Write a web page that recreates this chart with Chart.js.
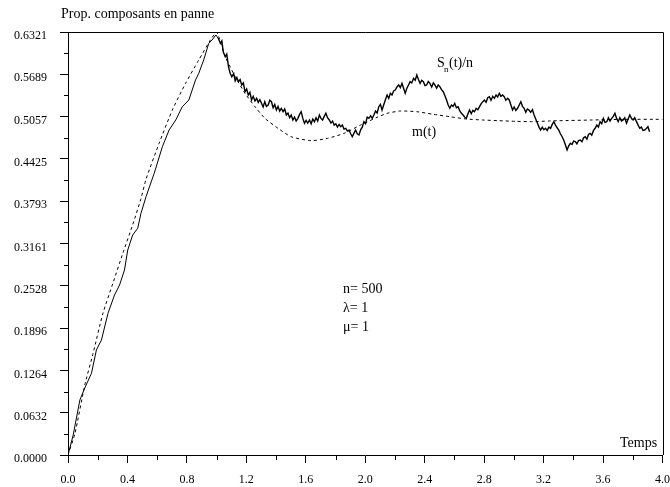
<!DOCTYPE html>
<html>
<head>
<meta charset="utf-8">
<script src="https://cdn.jsdelivr.net/npm/chart.js@4.4.1/dist/chart.umd.min.js"></script>
<style>
  html, body { margin: 0; padding: 0; background: #fff; overflow: hidden; }
  #wrap { width: 670px; height: 487px; overflow: hidden; }
</style>
</head>
<body>
<div id="wrap"><canvas id="chart" width="680" height="487"></canvas></div>
<script>
// --- données ---
const xTickLabels = ["0.0", "0.4", "0.8", "1.2", "1.6", "2.0", "2.4", "2.8", "3.2", "3.6", "4.0"];
const yTickLabels = ["0.0000", "0.0632", "0.1264", "0.1896", "0.2528", "0.3161",
  "0.3793", "0.4425", "0.5057", "0.5689", "0.6321"];

// S_n(t)/n : simulation (n = 500), points [t, valeur]
const simPoints = [
  [0.000, 0.0000], [0.035, 0.0299], [0.080, 0.0822], [0.113, 0.1001], [0.158, 0.1221],
  [0.191, 0.1569], [0.225, 0.1718], [0.269, 0.2117], [0.313, 0.2391], [0.347, 0.2540],
  [0.380, 0.2764], [0.402, 0.3063], [0.435, 0.3287], [0.469, 0.3388], [0.491, 0.3612],
  [0.525, 0.3860], [0.580, 0.4209], [0.635, 0.4607], [0.680, 0.4856], [0.725, 0.5006],
  [0.769, 0.5205], [0.813, 0.5304], [0.858, 0.5604], [0.880, 0.5704], [0.913, 0.5903],
  [0.947, 0.6152], [0.969, 0.6201], [0.995, 0.6276], [1.010, 0.6230], [1.025, 0.6152],
  [1.035, 0.6190], [1.045, 0.6020], [1.058, 0.5952], [1.068, 0.5990], [1.080, 0.5800],
  [1.091, 0.5704], [1.102, 0.5653], [1.115, 0.5700], [1.125, 0.5590], [1.136, 0.5640],
  [1.147, 0.5578], [1.158, 0.5610], [1.169, 0.5529], [1.180, 0.5560], [1.191, 0.5429],
  [1.202, 0.5470], [1.213, 0.5380], [1.224, 0.5420], [1.235, 0.5305], [1.246, 0.5360],
  [1.258, 0.5290], [1.269, 0.5330], [1.280, 0.5270], [1.291, 0.5310], [1.302, 0.5255],
  [1.313, 0.5200], [1.324, 0.5280], [1.335, 0.5210], [1.347, 0.5230], [1.358, 0.5300],
  [1.369, 0.5279], [1.380, 0.5190], [1.391, 0.5240], [1.402, 0.5155], [1.413, 0.5210],
  [1.424, 0.5140], [1.435, 0.5180], [1.447, 0.5130], [1.458, 0.5170], [1.469, 0.5081],
  [1.480, 0.5110], [1.491, 0.5040], [1.502, 0.5080], [1.513, 0.5006], [1.524, 0.5050],
  [1.535, 0.4990], [1.547, 0.5031], [1.558, 0.5090], [1.569, 0.5130], [1.580, 0.5030],
  [1.591, 0.4957], [1.602, 0.5000], [1.613, 0.4960], [1.625, 0.5006], [1.636, 0.4950],
  [1.647, 0.5020], [1.658, 0.4981], [1.669, 0.5040], [1.680, 0.4990], [1.691, 0.5081],
  [1.702, 0.5030], [1.713, 0.5006], [1.724, 0.5060], [1.735, 0.5106], [1.746, 0.5040],
  [1.758, 0.5006], [1.769, 0.4960], [1.780, 0.4990], [1.791, 0.4931], [1.802, 0.4950],
  [1.813, 0.4900], [1.824, 0.4940], [1.835, 0.4906], [1.846, 0.4930], [1.857, 0.4870],
  [1.869, 0.4882], [1.880, 0.4840], [1.891, 0.4856], [1.902, 0.4800], [1.913, 0.4756],
  [1.924, 0.4810], [1.935, 0.4856], [1.946, 0.4800], [1.958, 0.4782], [1.969, 0.4860],
  [1.980, 0.4900], [1.991, 0.4981], [2.002, 0.4950], [2.013, 0.5050], [2.025, 0.5031],
  [2.036, 0.5070], [2.047, 0.5030], [2.058, 0.5081], [2.069, 0.5140], [2.080, 0.5110],
  [2.091, 0.5205], [2.102, 0.5240], [2.113, 0.5155], [2.124, 0.5230], [2.135, 0.5305],
  [2.147, 0.5379], [2.158, 0.5330], [2.169, 0.5405], [2.180, 0.5380], [2.191, 0.5440],
  [2.202, 0.5454], [2.213, 0.5500], [2.225, 0.5529], [2.236, 0.5490], [2.247, 0.5554],
  [2.258, 0.5480], [2.269, 0.5405], [2.280, 0.5480], [2.291, 0.5529], [2.302, 0.5580],
  [2.313, 0.5560], [2.325, 0.5629], [2.336, 0.5600], [2.347, 0.5678], [2.358, 0.5610],
  [2.369, 0.5554], [2.380, 0.5600], [2.391, 0.5578], [2.402, 0.5520], [2.413, 0.5529],
  [2.424, 0.5580], [2.435, 0.5554], [2.447, 0.5500], [2.458, 0.5560], [2.469, 0.5529],
  [2.480, 0.5480], [2.491, 0.5530], [2.502, 0.5504], [2.513, 0.5460], [2.525, 0.5429],
  [2.536, 0.5370], [2.547, 0.5305], [2.558, 0.5230], [2.569, 0.5181], [2.580, 0.5230],
  [2.591, 0.5210], [2.602, 0.5255], [2.613, 0.5190], [2.625, 0.5205], [2.636, 0.5140],
  [2.647, 0.5106], [2.658, 0.5080], [2.669, 0.5050], [2.680, 0.5031], [2.691, 0.5100],
  [2.702, 0.5155], [2.713, 0.5100], [2.724, 0.5150], [2.735, 0.5130], [2.746, 0.5180],
  [2.758, 0.5160], [2.769, 0.5205], [2.780, 0.5250], [2.791, 0.5280], [2.802, 0.5305],
  [2.813, 0.5270], [2.824, 0.5340], [2.835, 0.5354], [2.846, 0.5300], [2.858, 0.5360],
  [2.869, 0.5330], [2.880, 0.5380], [2.891, 0.5350], [2.902, 0.5405], [2.913, 0.5360],
  [2.924, 0.5380], [2.935, 0.5354], [2.946, 0.5300], [2.958, 0.5330], [2.969, 0.5305],
  [2.980, 0.5230], [2.991, 0.5155], [3.002, 0.5200], [3.013, 0.5150], [3.025, 0.5181],
  [3.036, 0.5230], [3.047, 0.5279], [3.058, 0.5210], [3.069, 0.5181], [3.080, 0.5120],
  [3.091, 0.5170], [3.102, 0.5155], [3.113, 0.5120], [3.125, 0.5160], [3.136, 0.5080],
  [3.147, 0.5021], [3.158, 0.4960], [3.169, 0.4900], [3.180, 0.4856], [3.191, 0.4900],
  [3.202, 0.4860], [3.213, 0.4882], [3.224, 0.4850], [3.236, 0.4900], [3.247, 0.4882],
  [3.258, 0.4940], [3.269, 0.4981], [3.280, 0.4930], [3.291, 0.4890], [3.302, 0.4856],
  [3.313, 0.4800], [3.324, 0.4760], [3.335, 0.4707], [3.346, 0.4640], [3.358, 0.4558],
  [3.369, 0.4620], [3.380, 0.4658], [3.391, 0.4640], [3.402, 0.4690], [3.413, 0.4682],
  [3.424, 0.4650], [3.435, 0.4700], [3.447, 0.4707], [3.458, 0.4680], [3.469, 0.4740],
  [3.480, 0.4756], [3.491, 0.4720], [3.502, 0.4790], [3.513, 0.4807], [3.524, 0.4780],
  [3.536, 0.4850], [3.547, 0.4882], [3.558, 0.4930], [3.569, 0.4900], [3.580, 0.4981],
  [3.591, 0.4950], [3.602, 0.5031], [3.613, 0.4970], [3.625, 0.4981], [3.636, 0.5040],
  [3.647, 0.4990], [3.658, 0.5031], [3.669, 0.5060], [3.680, 0.5106], [3.691, 0.5030],
  [3.702, 0.4981], [3.713, 0.5040], [3.724, 0.4990], [3.735, 0.5006], [3.746, 0.5040],
  [3.758, 0.4957], [3.769, 0.5020], [3.780, 0.5081], [3.791, 0.5030], [3.802, 0.5006],
  [3.813, 0.5040], [3.825, 0.4981], [3.836, 0.4930], [3.847, 0.4882], [3.858, 0.4900],
  [3.869, 0.4850], [3.880, 0.4856], [3.891, 0.4880], [3.902, 0.4906], [3.913, 0.4831]
];

// m(t) : courbe théorique
const modelTime = [
  0.000, 0.047, 0.113, 0.169, 0.235, 0.302, 0.369, 0.435, 0.491, 0.525,
  0.613, 0.702, 0.791, 0.880, 0.958, 1.000, 1.058, 1.125, 1.191, 1.258,
  1.325, 1.413, 1.502, 1.635, 1.747, 1.858, 1.969, 2.080, 2.147, 2.235,
  2.347, 2.458, 2.569, 2.680, 2.791, 2.902, 3.013, 3.125, 3.235, 3.302,
  3.525, 3.747, 4.000
];
const modelValue = [
  0.0000, 0.0324, 0.1046, 0.1520, 0.2117, 0.2566, 0.3014, 0.3440, 0.3830, 0.4120,
  0.4658, 0.5155, 0.5554, 0.5903, 0.6201, 0.6321, 0.5952, 0.5653, 0.5405, 0.5205,
  0.5031, 0.4882, 0.4756, 0.4697, 0.4732, 0.4807, 0.4931, 0.5046, 0.5106, 0.5140,
  0.5130, 0.5091, 0.5055, 0.5021, 0.5006, 0.4995, 0.4986, 0.4981, 0.4991, 0.4995,
  0.5006, 0.5016, 0.5016
];

const serif = '"Liberation Serif", "Times New Roman", serif';
const tickFont = { family: serif, size: 12 };

// --- cadre, petites graduations et annotations ---
const extras = {
  id: "extras",
  afterDraw(chart) {
    const { ctx, chartArea: a, scales } = chart;
    ctx.save();
    ctx.strokeStyle = "#000";
    ctx.lineWidth = 1;
    ctx.beginPath();
    ctx.moveTo(a.left, Math.round(a.top) + 0.5);
    ctx.lineTo(Math.round(a.right) + 0.5, Math.round(a.top) + 0.5);
    ctx.lineTo(Math.round(a.right) + 0.5, a.bottom);
    // graduations secondaires
    const xs = xTickLabels.map(parseFloat);
    for (let i = 0; i < xs.length - 1; i++) {
      const px = Math.round(scales.x.getPixelForValue((xs[i] + xs[i + 1]) / 2)) + 0.5;
      ctx.moveTo(px, a.bottom);
      ctx.lineTo(px, a.bottom + 5);
    }
    const ys = yTickLabels.map(parseFloat);
    for (let i = 0; i < ys.length - 1; i++) {
      const py = Math.round(scales.y.getPixelForValue((ys[i] + ys[i + 1]) / 2)) + 0.5;
      ctx.moveTo(a.left, py);
      ctx.lineTo(a.left - 4, py);
    }
    ctx.stroke();

    ctx.fillStyle = "#000";
    ctx.textBaseline = "alphabetic";
    ctx.textAlign = "left";
    ctx.font = "14px " + serif;
    ctx.fillText("Prop. composants en panne", 61, 18);
    ctx.fillText("Temps", 620, 447);
    ctx.fillText("S", 437, 67);
    ctx.font = "9px " + serif;
    ctx.fillText("n", 444, 72);
    ctx.font = "14px " + serif;
    ctx.fillText("(t)/n", 449, 67);
    ctx.fillText("m(t)", 412, 136);
    ctx.fillText("n= 500", 343, 293);
    ctx.fillText("\u03bb= 1", 343, 312);
    ctx.fillText("\u03bc= 1", 343, 331);
    ctx.restore();
  }
};

const ctx = document.getElementById("chart");
new Chart(ctx, {
  type: "line",
  data: {
    datasets: [
      {
        label: "S_n(t)/n",
        data: simPoints.map((p) => ({ x: p[0], y: p[1] })),
        borderColor: "#000",
        borderWidth: 1,
        pointRadius: 0,
        tension: 0,
        segment: { borderWidth: (c) => (c.p0.parsed.x > 1.0 ? 1.4 : 1) }
      },
      {
        label: "m(t)",
        data: modelTime.map((t, i) => ({ x: t, y: modelValue[i] })),
        borderColor: "#000",
        borderWidth: 1,
        borderDash: [3, 3],
        pointRadius: 0,
        tension: 0.2
      }
    ]
  },
  options: {
    responsive: false,
    animation: false,
    devicePixelRatio: 1,
    layout: { padding: { top: 32, right: 12, left: 0, bottom: 0 } },
    plugins: { legend: { display: false }, tooltip: { enabled: false } },
    scales: {
      x: {
        type: "linear",
        min: 0,
        max: 4,
        afterBuildTicks: (s) => { s.ticks = xTickLabels.map((l) => ({ value: parseFloat(l) })); },
        afterFit: (s) => { s.height = 32; },
        ticks: {
          callback: (v, i) => xTickLabels[i],
          font: tickFont,
          color: "#000",
          padding: 10,
          maxRotation: 0,
          autoSkip: false
        },
        grid: { drawOnChartArea: false, tickLength: 8, color: "#000" },
        border: { color: "#000" }
      },
      y: {
        type: "linear",
        min: 0,
        max: 0.6321,
        afterBuildTicks: (s) => { s.ticks = yTickLabels.map((l) => ({ value: parseFloat(l) })); },
        afterFit: (s) => { s.width = 68; },
        ticks: {
          callback: (v, i) => yTickLabels[i],
          font: tickFont,
          color: "#000",
          padding: 13,
          labelOffset: 4,
          autoSkip: false
        },
        grid: { drawOnChartArea: false, tickLength: 8, color: "#000" },
        border: { color: "#000" }
      }
    }
  },
  plugins: [extras]
});
</script>
</body>
</html>
